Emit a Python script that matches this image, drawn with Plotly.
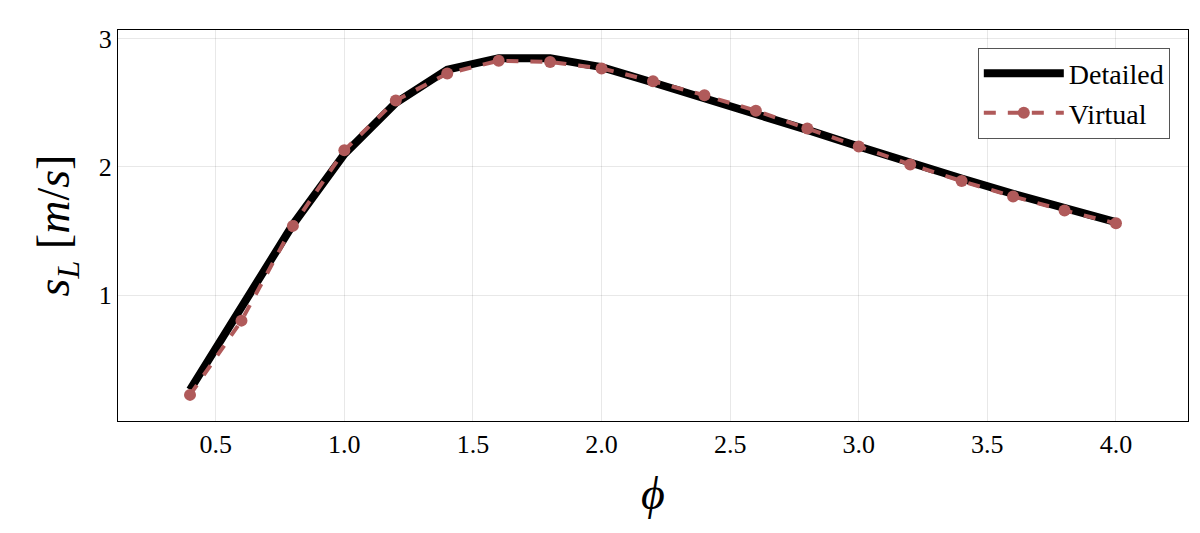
import plotly.graph_objects as go

phi = [0.4,0.6,0.8,1.0,1.2,1.4,1.6,1.8,2.0,2.2,2.4,2.6,2.8,3.0,3.2,3.4,3.6,3.8,4.0]
detailed = [0.26,0.90,1.55,2.10,2.50,2.76,2.85,2.85,2.78,2.66,2.54,2.42,2.29,2.16,2.03,1.91,1.79,1.68,1.57]
virtual = [0.22,0.80,1.54,2.13,2.52,2.73,2.83,2.82,2.77,2.67,2.56,2.44,2.30,2.16,2.02,1.89,1.77,1.66,1.56]
xticks = [0.5,1.0,1.5,2.0,2.5,3.0,3.5,4.0]
yticks = [1,2,3]

font = "Liberation Serif"
fig = go.Figure()
fig.add_trace(go.Scatter(x=phi, y=detailed, mode="lines", name="Detailed",
                         line=dict(color="black", width=8)))
fig.add_trace(go.Scatter(x=phi, y=virtual, mode="lines+markers", name="Virtual",
                         line=dict(color="#b05a5a", width=4, dash="dash"),
                         marker=dict(size=12, color="#b05a5a")))
ax = dict(showline=True, linecolor="black", linewidth=1, mirror=True, gridcolor="rgba(0,0,0,0.09)",
          ticks="", zeroline=False, automargin=False, tickfont=dict(size=26, family=font, color="black"))
fig.update_layout(
    width=1200, height=533, plot_bgcolor="white", paper_bgcolor="white",
    margin=dict(l=110, r=20, t=22, b=120, autoexpand=False),
    font=dict(family=font, color="black"),
    xaxis=dict(ax, range=[0.12, 4.28], tickvals=xticks, ticktext=[f"{v:.1f}" for v in xticks],
               title=dict(text="<i>ϕ</i>", font=dict(size=46, family=font), standoff=18)),
    yaxis=dict(ax, range=[0.016, 3.07], tickvals=yticks,
               title=dict(text="<i>s</i><sub><i>L</i></sub> [<i>m</i>/<i>s</i>]", font=dict(size=46, family=font), standoff=14)),
    legend=dict(x=0.983, y=0.955, xanchor="right", yanchor="top", bordercolor="#555", borderwidth=1,
                font=dict(size=28, family=font), bgcolor="white", itemwidth=80, tracegroupgap=8),
)
fig.write_html("out.html")
